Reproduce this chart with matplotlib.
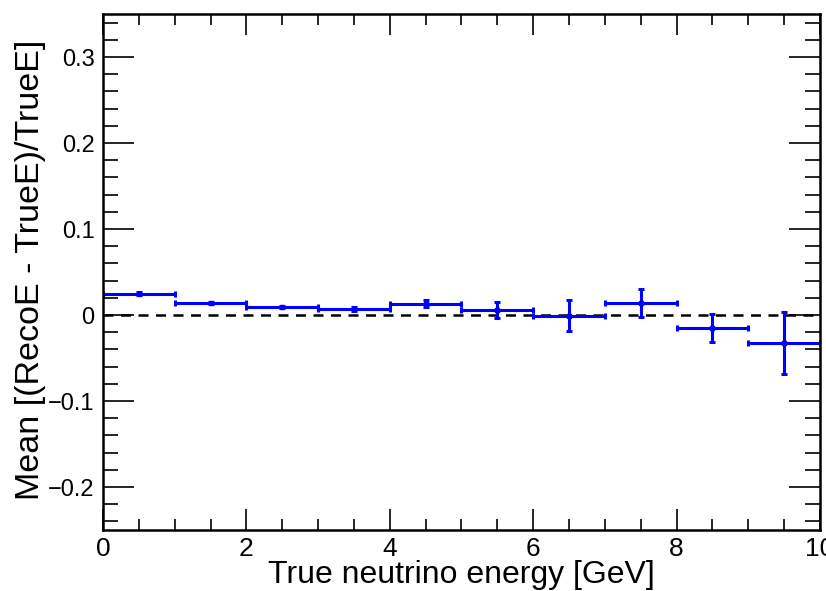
import matplotlib.pyplot as plt
from matplotlib.ticker import MultipleLocator

# bin centres / half widths and the mean bias per bin
energy = [0.5, 1.5, 2.5, 3.5, 4.5, 5.5, 6.5, 7.5, 8.5, 9.5]
half_width = [0.5, 0.5, 0.5, 0.5, 0.5, 0.5, 0.5, 0.5, 0.5, 0.5]
mean_bias = [0.025, 0.014, 0.0095, 0.007, 0.013, 0.006, -0.001, 0.014, -0.015, -0.0325]
bias_err = [0.002, 0.0015, 0.0015, 0.002, 0.004, 0.009, 0.018, 0.0165, 0.0165, 0.0365]

plt.rcParams['font.family'] = ['Liberation Sans', 'DejaVu Sans']

fig = plt.figure(figsize=(8.26, 5.91), dpi=100)
ax = fig.add_axes([0.1247, 0.1032, 0.8680, 0.8731])

ax.axhline(0, color='black', linestyle=(0, (4, 3)), linewidth=1.8, zorder=1)
ax.errorbar(energy, mean_bias, xerr=half_width, yerr=bias_err, fmt='s',
            color='blue', ms=3, elinewidth=2.2, capsize=2.5, capthick=2.2, zorder=2)

ax.set_xlim(0, 10)
ax.set_ylim(-0.25, 0.35)
ax.xaxis.set_major_locator(MultipleLocator(2))
ax.xaxis.set_minor_locator(MultipleLocator(0.5))
ax.yaxis.set_minor_locator(MultipleLocator(0.02))
ax.set_yticks([-0.2, -0.1, 0, 0.1, 0.2, 0.3])
ax.set_yticklabels(['\u22120.2', '\u22120.1', '0', '0.1', '0.2', '0.3'])

ax.tick_params(which='both', direction='in', top=True, right=True, width=1.2)
ax.tick_params(axis='y', which='major', length=22, labelsize=17, pad=6)
ax.tick_params(axis='y', which='minor', length=11)
ax.tick_params(axis='x', which='major', length=15, labelsize=19, pad=5)
ax.tick_params(axis='x', which='minor', length=8)
for sp in ax.spines.values():
    sp.set_linewidth(1.8)

ax.set_xlabel('True neutrino energy [GeV]', fontsize=23)
ax.xaxis.set_label_coords(0.5, -0.058)
ax.set_ylabel('Mean [(RecoE - TrueE)/TrueE]', fontsize=24.5)
ax.yaxis.set_label_coords(-0.079, 0.504)

fig.savefig('out.png', dpi=100)
